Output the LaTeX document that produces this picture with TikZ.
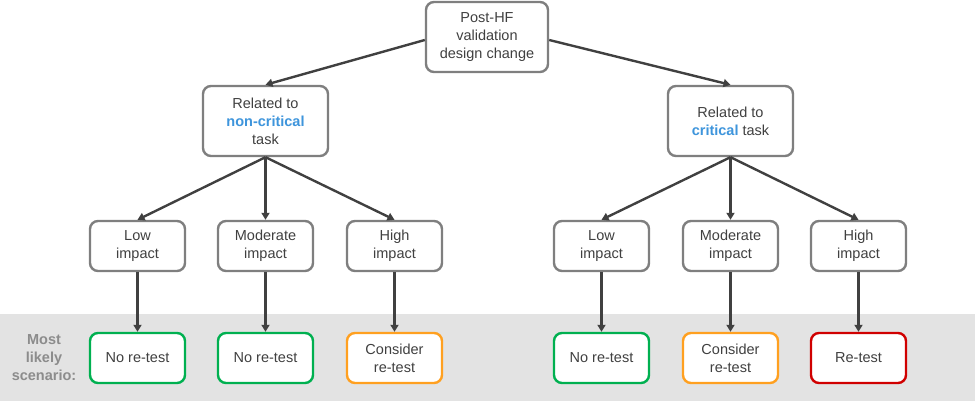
\documentclass[tikz,border=0pt]{standalone}
\usepackage{fontspec}
\setmainfont{Liberation Sans}
\usepackage{tikz}
\usetikzlibrary{arrows.meta}

\definecolor{txtgray}{HTML}{404040}
\definecolor{boxgray}{HTML}{7F7F7F}
\definecolor{bandgray}{HTML}{E3E3E3}
\definecolor{labgray}{HTML}{8C8C8C}
\definecolor{keyblue}{HTML}{3E95DC}
\definecolor{okgreen}{HTML}{00B050}
\definecolor{midorange}{HTML}{FFA020}
\definecolor{badred}{HTML}{D00000}

\tikzset{
  box/.style={draw=boxgray, line width=2.4pt, rounded corners=8pt, fill=white,
    align=center, text=txtgray, inner sep=2pt,
    font=\fontsize{14.5}{18}\selectfont},
  bigbox/.style={box, minimum width=122pt, minimum height=70pt},
  smallbox/.style={box, minimum width=95pt, minimum height=50pt},
  outcome/.style={smallbox, draw=#1},
  link/.style={draw=txtgray, line width=2.4pt,
    -{Triangle[length=7pt,width=8pt]}},
}

\begin{document}
\begin{tikzpicture}[x=1pt,y=1pt]

	    \useasboundingbox (0,0) rectangle (975,401);
	    \fill[bandgray] (0,0) rectangle (975,87);

	    \node[bigbox] (top) at (487,364) {Post-HF\\validation\\design change};

	    \node[bigbox, minimum width=125pt] (nc) at (265.5,280)
	        {Related to\\\textbf{\color{keyblue}non-critical}\\task};
	    \node[bigbox, minimum width=125pt] (cr) at (730.5,280)
	        {Related to\\\textbf{\color{keyblue}critical} task};

	    % non-critical branch
	    \node[smallbox] (nclow) at (137.5,155) {Low\\impact};
	    \node[smallbox] (ncmod) at (265.5,155) {Moderate\\impact};
	    \node[smallbox] (nchigh) at (394.5,155) {High\\impact};

	    \node[outcome=okgreen] (nclowres) at (137.5,43) {No re-test};
	    \node[outcome=okgreen] (ncmodres) at (265.5,43) {No re-test};
	    \node[outcome=midorange] (nchighres) at (394.5,43) {Consider\\re-test};

	    % critical branch
	    \node[smallbox] (crlow) at (601.5,155) {Low\\impact};
	    \node[smallbox] (crmod) at (730.5,155) {Moderate\\impact};
	    \node[smallbox] (crhigh) at (858.5,155) {High\\impact};

	    \node[outcome=okgreen] (crlowres) at (601.5,43) {No re-test};
	    \node[outcome=midorange] (crmodres) at (730.5,43) {Consider\\re-test};
	    \node[outcome=badred] (crhighres) at (858.5,43) {Re-test};

	    \node[align=center, text=labgray, font=\bfseries\fontsize{14.5}{18}\selectfont]
	        (scen) at (44,43) {Most\\likely\\scenario:};

	    \draw[link] ([yshift=-3pt]top.west) -- (nc.north);
	    \draw[link] ([yshift=-3pt]top.east) -- (cr.north);

	    \foreach \s in {nc,cr} {
	        \foreach \k in {low,mod,high} {
	            \draw[link] (\s.south) -- (\s\k.north);
	            \draw[link] (\s\k.south) -- (\s\k res.north);
	        }
	    }

\end{tikzpicture}
\end{document}
